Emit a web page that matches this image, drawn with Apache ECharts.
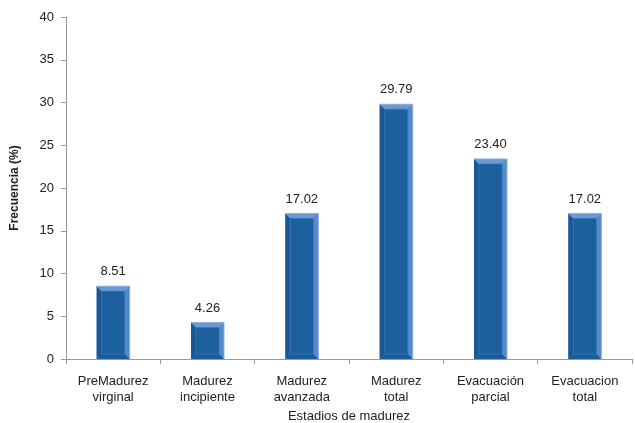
<!DOCTYPE html>
<html>
<head>
<meta charset="utf-8">
<script src="https://cdn.jsdelivr.net/npm/echarts@6/dist/echarts.min.js"></script>
<style>
  html, body { margin: 0; padding: 0; background: #fff; }
  #chart { width: 635px; height: 423px; }
</style>
</head>
<body>
<div id="chart"></div>
<script>
// Maturity stages and their frequency (%)
const categories = [
  'PreMadurez\nvirginal',
  'Madurez\nincipiente',
  'Madurez\navanzada',
  'Madurez\ntotal',
  'Evacuación\nparcial',
  'Evacuacion\ntotal'
];
const frecuencia = [8.51, 4.26, 17.02, 29.79, 23.40, 17.02];
const yTicks = { min: 0, max: 40, interval: 5 };

const FONT = 'Liberation Sans, Arial, sans-serif';

// Bevelled column: outer frame split into four facets around a flat face
function renderBevelBar(params, api) {
  const idx = api.value(0);
  const val = api.value(1);
  const top = api.coord([idx, val]);
  const base = api.coord([idx, 0]);
  const w = api.size([1, 0])[0] * 0.35;
  const x0 = top[0] - w / 2, x1 = top[0] + w / 2;
  const y0 = top[1], y1 = base[1];
  const b = Math.min(5, (y1 - y0) / 2);
  const ix0 = x0 + b, ix1 = x1 - b, iy0 = y0 + b, iy1 = y1 - b;
  const poly = (pts, fill) => ({ type: 'polygon', shape: { points: pts }, style: { fill: fill } });
  return {
    type: 'group',
    children: [
      { type: 'rect', shape: { x: x0, y: y0, width: w, height: y1 - y0 }, style: { fill: '#5d8fcc' } },
      poly([[x0, y0], [ix0, iy0], [ix0, iy1], [x0, y1]], '#1b5893'),
      poly([[x0, y0], [x1, y0], [ix1, iy0], [ix0, iy0]], '#6b9ad2'),
      poly([[x1, y0], [x1, y1], [ix1, iy1], [ix1, iy0]], '#5589c9'),
      poly([[x0, y1], [ix0, iy1], [ix1, iy1], [x1, y1]], '#1d5c9a'),
      { type: 'rect', shape: { x: ix0, y: iy0, width: ix1 - ix0, height: iy1 - iy0 },
        style: { fill: '#1c5f9f', stroke: '#3a74b4', lineWidth: 0.8 } },
      { type: 'polyline', shape: { points: [[x0, y0], [x1, y0], [x1, y1]] },
        style: { fill: null, stroke: '#8db2df', lineWidth: 1 } },
      { type: 'text', x: top[0], y: y0 - 8,
        style: { text: val.toFixed(2), fill: '#222', font: '13px ' + FONT,
                 align: 'center', verticalAlign: 'bottom' } }
    ]
  };
}

const chart = echarts.init(document.getElementById('chart'));
chart.setOption({
  animation: false,
  grid: { left: 66, right: 3, top: 17, bottom: 64, outerBoundsMode: 'none', containLabel: false },
  xAxis: {
    type: 'category',
    data: categories,
    name: 'Estadios de madurez',
    nameLocation: 'middle',
    nameGap: 49,
    nameTextStyle: { fontFamily: FONT, fontSize: 13, color: '#222' },
    axisLine: { lineStyle: { color: '#999', width: 1 } },
    axisTick: { show: true, length: 5, lineStyle: { color: '#999' } },
    axisLabel: { fontFamily: FONT, fontSize: 13, color: '#222', margin: 14, lineHeight: 16, interval: 0 }
  },
  yAxis: {
    type: 'value',
    min: yTicks.min, max: yTicks.max, interval: yTicks.interval,
    name: 'Frecuencia (%)',
    nameLocation: 'middle',
    nameGap: 45,
    nameTextStyle: { fontFamily: FONT, fontSize: 12, fontWeight: 'bold', color: '#222' },
    axisLine: { show: true, lineStyle: { color: '#999', width: 1 } },
    axisTick: { show: true, inside: false, length: 5, lineStyle: { color: '#999' } },
    axisLabel: { fontFamily: FONT, fontSize: 13, color: '#222', margin: 12 },
    splitLine: { show: false }
  },
  series: [{
    type: 'custom',
    renderItem: renderBevelBar,
    encode: { x: 0, y: 1 },
    data: frecuencia.map((v, i) => [i, v])
  }]
});
</script>
</body>
</html>
